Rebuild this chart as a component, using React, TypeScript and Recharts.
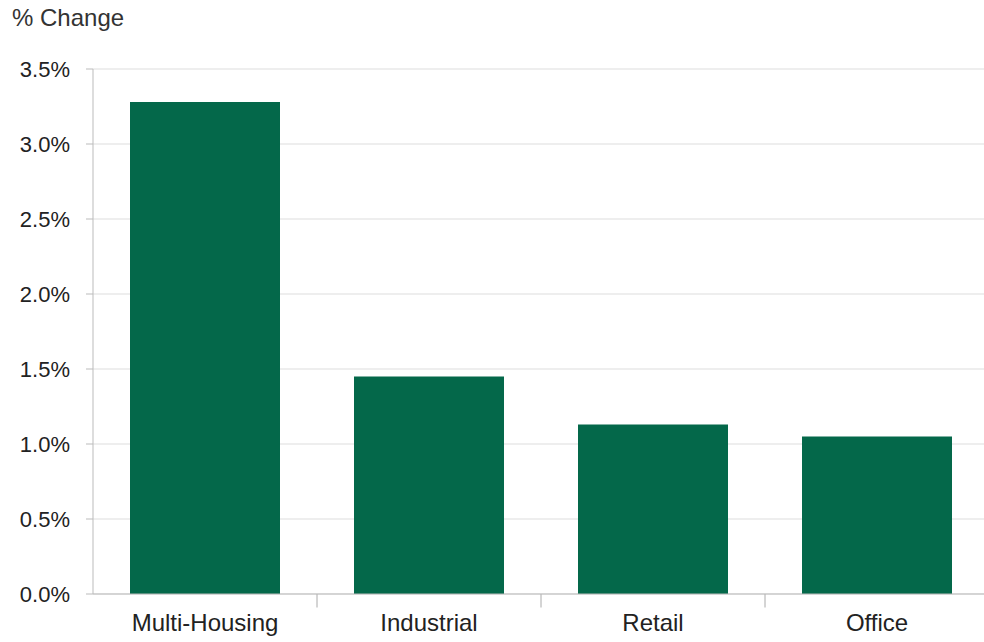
import { BarChart, Bar, XAxis, YAxis, CartesianGrid, ReferenceLine } from "recharts";

const categories = ["Multi-Housing", "Industrial", "Retail", "Office"];
const changes = [3.28, 1.45, 1.13, 1.05];
const yTicks = [0, 0.5, 1, 1.5, 2, 2.5, 3, 3.5];

const data = categories.map((name, i) => ({ name, value: changes[i] }));

const font = "'Liberation Sans', Arial, sans-serif";

export default function App() {
  return (
    <div style={{ position: "absolute", left: 0, top: 0, width: 984, height: 642, overflow: "hidden", background: "#fff", fontFamily: font }}>
      <div style={{ position: "absolute", left: 12, top: 4, fontSize: 24, color: "#333" }}>% Change</div>
      <BarChart
        width={989}
        height={642}
        data={data}
        margin={{ top: 69, right: 0, bottom: 3, left: 0 }}
        barCategoryGap={74}
      >
        <CartesianGrid vertical={false} stroke="#dddddd" />
        <XAxis
          dataKey="name"
          height={45}
          tickLine={false}
          axisLine={{ stroke: "#bbbbbb" }}
          tickMargin={14}
          tick={{ fill: "#222", fontSize: 24, fontFamily: font }}
        />
        <YAxis
          width={93}
          domain={[0, 3.5]}
          ticks={yTicks}
          tickFormatter={(v: number) => v.toFixed(1) + "%"}
          tickSize={7}
          tickMargin={16}
          tickLine={{ stroke: "#bbbbbb" }}
          axisLine={{ stroke: "#bbbbbb" }}
          tick={{ fill: "#222", fontSize: 22, fontFamily: font }}
        />
        <Bar dataKey="value" fill="#04684a" barSize={150} isAnimationActive={false} />
        {/* small tick marks at the boundaries between categories */}
        {categories.slice(0, -1).map((c) => (
          <ReferenceLine
            key={c}
            segment={[{ x: c, y: 0 }, { x: c, y: -0.09 }]}
            position="end"
            ifOverflow="visible"
            stroke="#aaaaaa"
          />
        ))}
      </BarChart>
    </div>
  );
}
